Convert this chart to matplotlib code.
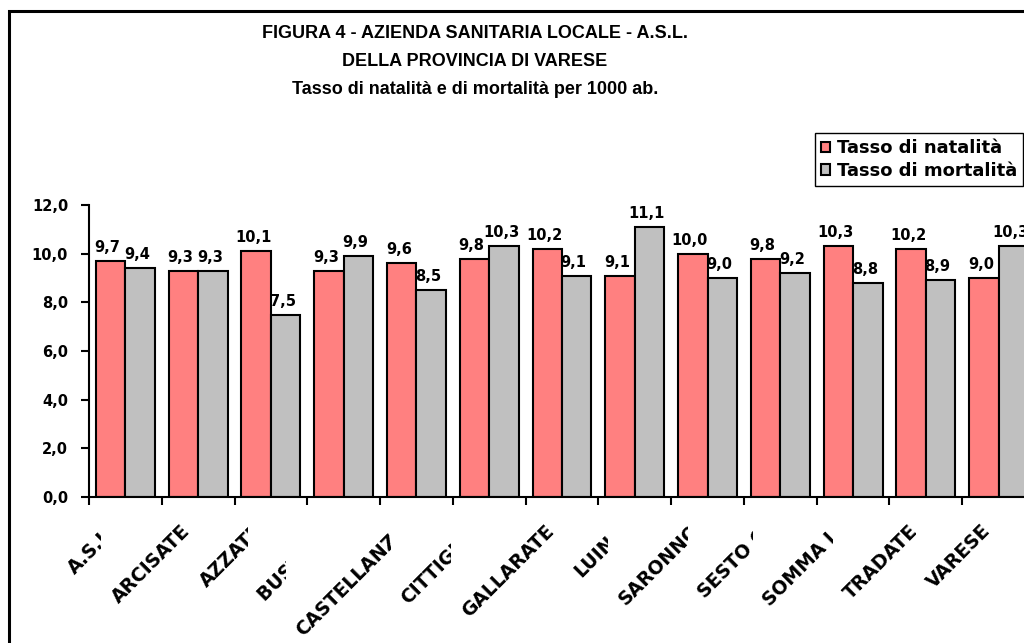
import matplotlib
matplotlib.use("Agg")
import matplotlib.pyplot as plt
import matplotlib.transforms as mtransforms
from matplotlib.patches import Rectangle
import numpy as np

categories = ["A.S.L.", "ARCISATE", "AZZATE", "BUSTO A.", "CASTELLANZA", "CITTIGLIO",
              "GALLARATE", "LUINO", "SARONNO", "SESTO C.", "SOMMA L.", "TRADATE", "VARESE"]
natalita = [9.7, 9.3, 10.1, 9.3, 9.6, 9.8, 10.2, 9.1, 10.0, 9.8, 10.3, 10.2, 9.0]
mortalita = [9.4, 9.3, 7.5, 9.9, 8.5, 10.3, 9.1, 11.1, 9.0, 9.2, 8.8, 8.9, 10.3]
yticks = [0, 2, 4, 6, 8, 10, 12]
series_names = ["Tasso di natalità", "Tasso di mortalità"]
title_lines = ["FIGURA 4 - AZIENDA SANITARIA LOCALE - A.S.L.",
               "DELLA PROVINCIA DI VARESE",
               "Tasso di natalità e di mortalità per 1000 ab."]

W, H = 1024, 643
fig = plt.figure(figsize=(W / 100, H / 100), dpi=100)
fig.patch.set_facecolor("white")

# outer border (clipped at right and bottom like reference)
fig.add_artist(Rectangle((9 / W, -0.1), 1.2, 1 - 11 / H + 0.1, transform=fig.transFigure,
                         fill=False, edgecolor="black", linewidth=2.2))

ax_left, ax_right = 89 / W, 1035 / W
ax_bottom, ax_top = 1 - 497 / H, 1 - 205 / H
ax = fig.add_axes([ax_left, ax_bottom, ax_right - ax_left, ax_top - ax_bottom])
ax.set_facecolor("none")

x = np.arange(len(categories))
bw = 0.405
b1 = ax.bar(x - bw / 2, natalita, bw, color="#FF8080", edgecolor="black", linewidth=1.5,
            label=series_names[0], zorder=2)
b2 = ax.bar(x + bw / 2, mortalita, bw, color="#C0C0C0", edgecolor="black", linewidth=1.5,
            label=series_names[1], zorder=2)

ax.set_xlim(-0.5, len(categories) - 0.5)
ax.set_ylim(0, 12)
ax.set_yticks(yticks)
ax.set_yticklabels([f"{v:.1f}".replace(".", ",") for v in yticks],
                   fontsize=10.5, fontweight="bold", family="DejaVu Sans")
ax.set_xticks(np.arange(-0.5, len(categories) + 0.5, 1.0))
ax.set_xticklabels([])
ax.tick_params(axis="y", length=6, width=1.5, pad=9, direction="out")
ax.tick_params(axis="x", length=6, width=1.5, direction="out")
for s in ["top", "right"]:
    ax.spines[s].set_visible(False)
for s in ["left", "bottom"]:
    ax.spines[s].set_linewidth(1.5)

# value labels
for bars, vals in ((b1, natalita), (b2, mortalita)):
    for rect, v in zip(bars, vals):
        ax.annotate(f"{v:.1f}".replace(".", ","),
                    (rect.get_x() + rect.get_width() / 2, rect.get_height()),
                    xytext=(-3, 6), textcoords="offset pixels", ha="center", va="bottom",
                    fontsize=10.5, fontweight="bold", family="DejaVu Sans",
                    annotation_clip=False, zorder=5)

# title
ys = [33, 61, 90]
for line, yy in zip(title_lines, ys):
    fig.text(475 / W, 1 - yy / H, line, ha="center", va="center", fontsize=13,
             fontweight="bold", family="Liberation Sans")

# legend
leg = fig.legend(handles=[b1, b2], labels=series_names, loc="upper left",
                 bbox_to_anchor=(815 / W, 1 - 133 / H), frameon=True, fancybox=False,
                 edgecolor="black", framealpha=1, borderpad=0.35, handlelength=0.5,
                 handleheight=0.5, handletextpad=0.35, labelspacing=0.25,
                 borderaxespad=0, prop={"family": "DejaVu Sans", "weight": "bold", "size": 13})
leg.get_frame().set_linewidth(1.0)

# category labels with opaque axis-aligned white boxes (later labels cover earlier ones)
off = mtransforms.offset_copy(ax.transData, fig=fig, x=-18, y=-24, units="dots")
texts = []
for i, name in enumerate(categories):
    t = ax.text(x[i], 0, name, transform=off, rotation=45, rotation_mode="anchor",
                ha="right", va="top", fontsize=13.5, fontweight="bold",
                family="DejaVu Sans", clip_on=False, zorder=20 + 2 * i + 1)
    texts.append(t)

fig.canvas.draw()
renderer = fig.canvas.get_renderer()
inv = fig.transFigure.inverted()
pad = 7
for i, t in enumerate(texts):
    bb = t.get_window_extent(renderer)
    (fx0, fy0) = inv.transform((bb.x0 - pad, bb.y0 - pad))
    (fx1, fy1) = inv.transform((bb.x1 + pad, bb.y1 + pad))
    r = Rectangle((fx0, fy0), fx1 - fx0, fy1 - fy0, transform=fig.transFigure,
                  facecolor="white", edgecolor="none", clip_on=False, zorder=20 + 2 * i)
    ax.add_artist(r)

fig.savefig("out.png", dpi=100)
